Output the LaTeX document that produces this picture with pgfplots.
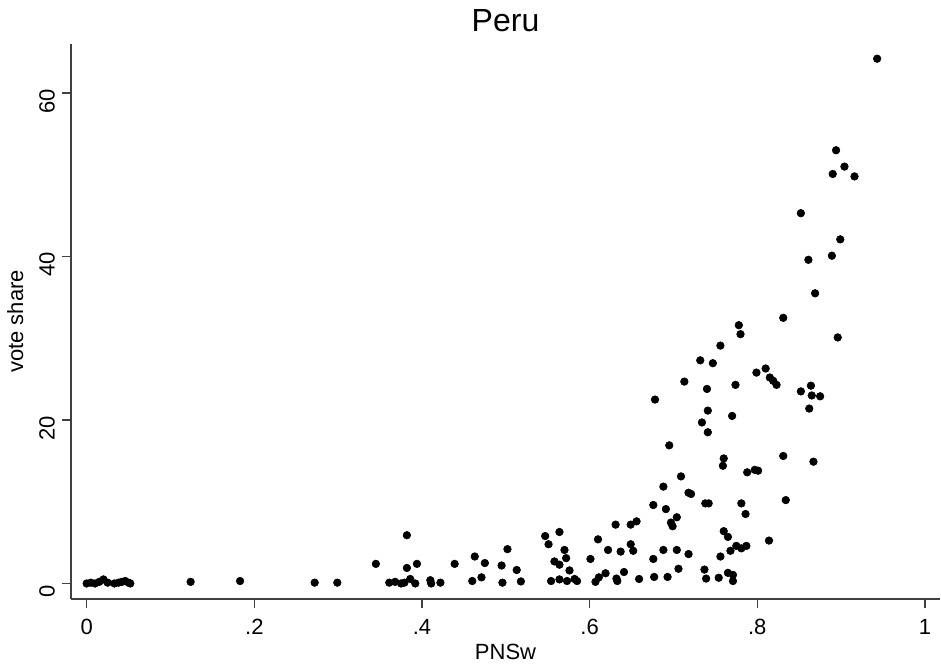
\documentclass[border=0pt]{standalone}
\usepackage{fontspec}
\setmainfont{Liberation Sans}
\usepackage{pgfplots}
\usepackage{pgfplotstable}
\pgfplotsset{compat=1.18}

% PNSw vs vote share, Peru
\pgfplotstableread{
x y
0.000 0.0
0.005 0.1
0.010 0.0
0.015 0.2
0.020 0.5
0.025 0.1
0.033 0.0
0.038 0.1
0.042 0.2
0.046 0.3
0.050 0.1
0.052 0.0
0.124 0.2
0.183 0.3
0.272 0.1
0.299 0.1
0.345 2.4
0.382 5.9
0.361 0.1
0.368 0.2
0.375 0.0
0.379 0.1
0.386 0.55
0.382 1.9
0.394 2.4
0.392 0.0
0.410 0.4
0.411 0.0
0.422 0.1
0.439 2.4
0.463 3.3
0.475 2.5
0.460 0.3
0.471 0.75
0.495 2.2
0.502 4.2
0.496 0.1
0.513 1.65
0.518 0.25
0.547 5.8
0.551 4.8
0.564 6.3
0.558 2.7
0.564 2.3
0.570 4.1
0.572 3.1
0.576 1.6
0.554 0.3
0.564 0.5
0.573 0.3
0.582 0.55
0.585 0.3
0.601 3.0
0.610 5.4
0.622 4.1
0.631 7.2
0.637 3.9
0.649 7.2
0.656 7.6
0.649 4.8
0.652 4.0
0.607 0.2
0.611 0.75
0.619 1.25
0.632 0.6
0.633 0.3
0.641 1.4
0.659 0.55
0.831 32.5
0.778 31.6
0.780 30.5
0.756 29.1
0.732 27.3
0.747 26.95
0.799 25.8
0.810 26.3
0.815 25.2
0.819 24.8
0.823 24.3
0.713 24.7
0.740 23.8
0.774 24.3
0.678 22.5
0.741 21.15
0.770 20.5
0.734 19.7
0.741 18.5
0.695 16.9
0.760 15.3
0.759 14.4
0.831 15.6
0.788 13.6
0.797 13.9
0.801 13.8
0.709 13.1
0.688 11.85
0.718 11.1
0.721 10.95
0.834 10.2
0.676 9.6
0.691 9.1
0.738 9.8
0.742 9.8
0.781 9.8
0.786 8.5
0.704 8.1
0.697 7.45
0.699 7.0
0.760 6.4
0.765 5.7
0.814 5.25
0.775 4.6
0.781 4.3
0.787 4.6
0.768 4.0
0.756 3.3
0.676 3.0
0.688 4.1
0.704 4.1
0.718 3.6
0.706 1.8
0.737 1.7
0.677 0.8
0.693 0.8
0.739 0.6
0.754 0.7
0.765 1.3
0.771 1.05
0.771 0.3
0.943 64.2
0.894 53.0
0.904 51.0
0.890 50.1
0.916 49.8
0.852 45.3
0.899 42.1
0.889 40.1
0.861 39.6
0.869 35.5
0.896 30.1
0.852 23.5
0.864 24.2
0.865 23.0
0.875 22.9
0.862 21.4
0.867 14.9
}\perudata

\begin{document}
\begin{tikzpicture}
\begin{axis}[
    name=ax,
    scale only axis,
    width=434.5pt, height=277.5pt,
    xmin=-0.0187, xmax=1.018,
    ymin=-1.9, ymax=66,
    axis x line*=bottom, axis y line*=left,
    axis line style={-, line width=0.75pt, black!75},
    tick style={line width=0.75pt, black!75},
    tick align=outside,
    major tick length=4.5pt,
    xtick={0,0.2,0.4,0.6,0.8,1},
    xticklabels={0,.2,.4,.6,.8,1},
    ytick={0,20,40,60},
    minor tick num=0,
    /pgf/number format/assume math mode=true,
    ticklabel style={font=\fontsize{11}{13}\selectfont},
    xticklabel style={anchor=north, yshift=-2pt},
    yticklabel style={rotate=90, anchor=south, xshift=-4pt},
    title={Peru},
    title style={font=\fontsize{16}{19}\selectfont, at={(0.5,1)}, anchor=base, yshift=0.5pt},
    xlabel={PNSw},
    xlabel style={font=\fontsize{11}{13}\selectfont, at={(axis description cs:0.5,0)}, anchor=base, yshift=-30pt},
    ylabel={vote share},
    ylabel style={font=\fontsize{11}{13}\selectfont, at={(axis description cs:-0.055,0.5)}, anchor=base},
]
\addplot[only marks, mark=*, mark size=1.9pt, mark options={fill=black, draw=black, line width=0.3pt}]
    table[x=x, y=y] {\perudata};
\end{axis}
\pgfresetboundingbox
\path[use as bounding box] ([xshift=-35.5pt, yshift=-34pt]ax.south west) rectangle ([xshift=0.5pt, yshift=22pt]ax.north east);
\end{tikzpicture}
\end{document}
